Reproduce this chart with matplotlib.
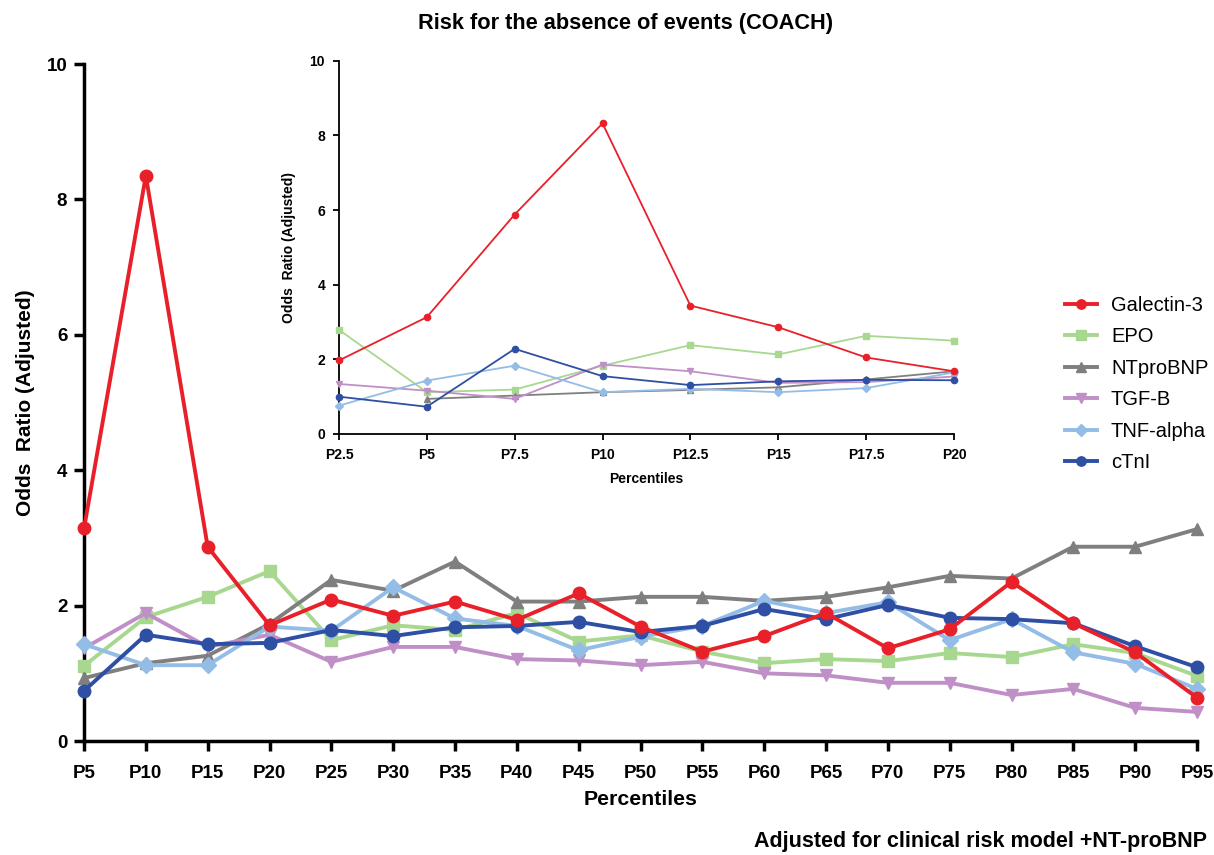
import matplotlib
matplotlib.use('Agg')
import matplotlib.pyplot as plt
import numpy as np

plt.rcParams['font.family'] = ['Liberation Sans', 'DejaVu Sans']

# Основной график: перцентили P5..P95
percentiles = ['P5', 'P10', 'P15', 'P20', 'P25', 'P30', 'P35', 'P40', 'P45', 'P50',
               'P55', 'P60', 'P65', 'P70', 'P75', 'P80', 'P85', 'P90', 'P95']

galectin = [3.14, 8.35, 2.87, 1.71, 2.09, 1.85, 2.06, 1.79, 2.18, 1.69,
            1.32, 1.55, 1.89, 1.37, 1.65, 2.35, 1.74, 1.31, 0.64]
epo = [1.11, 1.83, 2.13, 2.51, 1.49, 1.71, 1.64, 1.89, 1.47, 1.56,
       1.32, 1.15, 1.21, 1.18, 1.30, 1.24, 1.43, 1.30, 0.96]
ntprobnp = [0.93, 1.15, 1.26, 1.73, 2.38, 2.22, 2.65, 2.06, 2.06, 2.13,
            2.13, 2.07, 2.13, 2.27, 2.44, 2.40, 2.87, 2.87, 3.13]
tgfb = [1.37, 1.89, 1.39, 1.57, 1.17, 1.39, 1.39, 1.21, 1.19, 1.12,
        1.17, 1.00, 0.97, 0.86, 0.86, 0.68, 0.77, 0.49, 0.43]
tnf = [1.43, 1.12, 1.12, 1.69, 1.63, 2.27, 1.81, 1.70, 1.34, 1.54,
       1.70, 2.07, 1.89, 2.05, 1.49, 1.80, 1.31, 1.14, 0.77]
ctni = [0.74, 1.57, 1.43, 1.45, 1.64, 1.55, 1.68, 1.70, 1.76, 1.61,
        1.70, 1.95, 1.80, 2.01, 1.82, 1.80, 1.74, 1.40, 1.09]

# Вставка: перцентили P2.5..P20
inset_percentiles = ['P2.5', 'P5', 'P7.5', 'P10', 'P12.5', 'P15', 'P17.5', 'P20']
inset_galectin = [1.97, 3.13, 5.88, 8.32, 3.44, 2.86, 2.05, 1.68]
inset_epo = [2.79, 1.12, 1.19, 1.83, 2.38, 2.13, 2.63, 2.50]
inset_ntprobnp = [np.nan, 0.94, 1.03, 1.12, 1.18, 1.25, 1.46, 1.68]
inset_tgfb = [1.34, 1.16, 0.94, 1.86, 1.68, 1.37, 1.39, 1.54]
inset_tnf = [0.76, 1.43, 1.83, 1.12, 1.21, 1.12, 1.23, 1.65]
inset_ctni = [1.00, 0.73, 2.28, 1.55, 1.31, 1.41, 1.45, 1.44]

names = ['Galectin-3', 'EPO', 'NTproBNP', 'TGF-B', 'TNF-alpha', 'cTnI']
colors = ['#E8202A', '#A8D88F', '#7F7F7F', '#C08FC7', '#93BDE6', '#2E4FA3']
markers = ['o', 's', '^', 'v', 'D', 'o']
zorders = [9, 3, 4, 5, 6, 7]

main_series = [galectin, epo, ntprobnp, tgfb, tnf, ctni]
inset_series = [inset_galectin, inset_epo, inset_ntprobnp, inset_tgfb, inset_tnf, inset_ctni]

fig = plt.figure(figsize=(12.14, 8.55), dpi=100)

# Основные оси
ax = fig.add_axes([0.0692, 0.1333, 0.9168, 0.7918])
x = np.arange(len(percentiles))
for vals, name, c, m, z in zip(main_series, names, colors, markers, zorders):
    ms = 8 if m == 'D' else 9
    ax.plot(x, vals, color=c, marker=m, lw=2.8, ms=ms, label=name, zorder=z, clip_on=False)

ax.set_xlim(0, len(percentiles) - 1)
ax.set_ylim(0, 10)
ax.set_xticks(x)
ax.set_xticklabels(percentiles, fontsize=13.5, fontweight='bold')
ax.set_yticks([0, 2, 4, 6, 8, 10])
ax.set_yticklabels(['0', '2', '4', '6', '8', '10'], fontsize=13.5, fontweight='bold')
for s in ['top', 'right']:
    ax.spines[s].set_visible(False)
for s in ['left', 'bottom']:
    ax.spines[s].set_linewidth(2.5)
ax.tick_params(width=2.5, length=7, pad=5)
ax.tick_params(axis='x', pad=10)
ax.set_xlabel('Percentiles', fontsize=15.3, fontweight='bold', labelpad=6)
ax.set_ylabel('Odds  Ratio (Adjusted)', fontsize=15, fontweight='bold', labelpad=8)

fig.text(0.515, 0.972, 'Risk for the absence of events (COACH)', ha='center', va='center',
         fontsize=15.7, fontweight='bold')
fig.text(0.994, 0.016, 'Adjusted for clinical risk model +NT-proBNP', ha='right', va='center',
         fontsize=15.5, fontweight='bold')

ax.legend(loc='upper left', bbox_to_anchor=(0.862, 0.675), bbox_transform=fig.transFigure,
          frameon=False, fontsize=14.5, handlelength=1.6, labelspacing=0.62, markerscale=0.75,
          handletextpad=0.7)

# Вставка
axi = fig.add_axes([0.2792, 0.4924, 0.5066, 0.4366])
xi = np.arange(len(inset_percentiles))
for vals, name, c, m, z in zip(inset_series, names, colors, markers, zorders):
    ms = 4 if m == 'D' else 4.5
    axi.plot(xi, vals, color=c, marker=m, lw=1.3, ms=ms, zorder=z, clip_on=False)
axi.set_xlim(0, len(inset_percentiles) - 1)
axi.set_ylim(0, 10)
axi.set_xticks(xi)
axi.set_xticklabels(inset_percentiles, fontsize=10, fontweight='bold')
axi.set_yticks([0, 2, 4, 6, 8, 10])
axi.set_yticklabels(['0', '2', '4', '6', '8', '10'], fontsize=10, fontweight='bold')
axi.patch.set_alpha(0)
for s in ['top', 'right']:
    axi.spines[s].set_visible(False)
for s in ['left', 'bottom']:
    axi.spines[s].set_linewidth(1.3)
axi.tick_params(width=1.3, length=4, pad=6)
axi.set_xlabel('Percentiles', fontsize=10, fontweight='bold', labelpad=7)
axi.set_ylabel('Odds  Ratio (Adjusted)', fontsize=10, fontweight='bold', labelpad=10)

fig.savefig('out.png', dpi=100)
